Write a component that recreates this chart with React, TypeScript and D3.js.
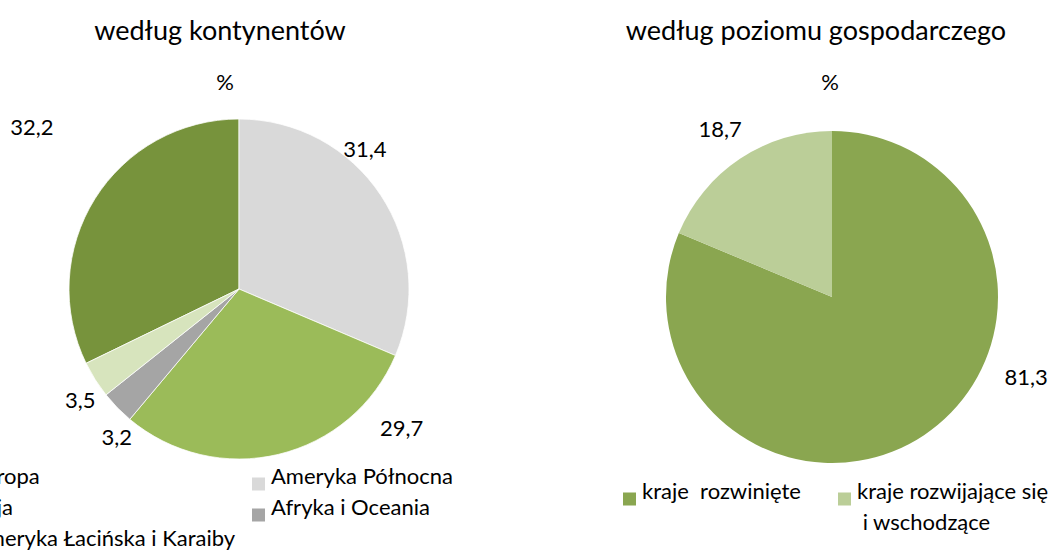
import React, { useEffect, useRef } from 'react'
import * as d3 from 'd3'

// data, legend order
const continentLabels = ['Europa', 'Ameryka Północna', 'Azja', 'Afryka i Oceania', 'Ameryka Łacińska i Karaiby']
const continentValues = [32.2, 31.4, 29.7, 3.2, 3.5]
const continentColors = ['#77933C', '#D9D9D9', '#9BBB59', '#A5A5A5', '#D7E4BD']

const levelLabels = ['kraje  rozwinięte', 'kraje rozwijające się\n i wschodzące']
const levelValues = [81.3, 18.7]
const levelColors = ['#8AA650', '#BBCE98']

// label placement (deg shift from slice middle, px beyond the rim)
const continentLabelShift = [6, -14.5, -36, -6.2, -2.8]
const continentLabelOffset = [93, 18, 44, 22, 24]
const levelLabelShift = [-34, 0]
const levelLabelOffset = [44, 36]

const W = 1055, H = 559
const FONT = 'Lato, "Open Sans", sans-serif'

const pl = d3.formatLocale({ decimal: ',', thousands: ' ', grouping: [3], currency: ['', ' zł'] })
const fmt = pl.format('.1f')

function drawPie(svg, o) {
  const g = svg.append('g')

  g.append('text')
    .attr('x', o.titleX).attr('y', 40)
    .attr('text-anchor', 'middle')
    .style('font-size', '27px')
    .text(o.title)
  g.append('text')
    .attr('x', o.pctX).attr('y', 90)
    .attr('text-anchor', 'middle')
    .style('font-size', '22px')
    .text('%')

  const total = d3.sum(o.values)
  const start = o.firstIndex ? -(o.values[0] / total) * 2 * Math.PI : 0
  const pie = d3.pie().sort(null).startAngle(start).endAngle(start + 2 * Math.PI)
  const arcs = pie(o.values)
  const arc = d3.arc().innerRadius(0).outerRadius(o.r)

  const pg = g.append('g').attr('transform', `translate(${o.cx},${o.cy})`)
  pg.selectAll('path')
    .data(arcs)
    .enter().append('path')
      .attr('d', arc)
      .attr('fill', (d, i) => o.colors[i])
      .attr('stroke', '#fff')
      .attr('stroke-width', o.stroke)

  pg.selectAll('text.lbl')
    .data(arcs)
    .enter().append('text')
      .attr('class', 'lbl')
      .attr('x', (d, i) => {
        const a = (d.startAngle + d.endAngle) / 2 + o.shift[i] * Math.PI / 180
        return Math.sin(a) * (o.r + o.offset[i])
      })
      .attr('y', (d, i) => {
        const a = (d.startAngle + d.endAngle) / 2 + o.shift[i] * Math.PI / 180
        return -Math.cos(a) * (o.r + o.offset[i])
      })
      .attr('dy', '0.35em')
      .attr('text-anchor', 'middle')
      .style('font-size', '22px')
      .text(d => fmt(d.value))

  // legend
  const lg = g.append('g')
  o.labels.forEach((lab, i) => {
    const col = i % o.legendCols.length
    const row = Math.floor(i / o.legendCols.length)
    const x = o.legendCols[col], y = o.legendY + row * 31
    lg.append('rect')
      .attr('x', x).attr('y', y - 6.5)
      .attr('width', 13).attr('height', 13)
      .attr('fill', o.colors[i])
    const t = lg.append('text')
      .attr('x', x + 19).attr('y', y)
      .attr('dy', '0.35em')
      .style('font-size', '22px')
      .style('white-space', 'pre')
    lab.split('\n').forEach((line, k) => {
      t.append('tspan')
        .attr('x', x + 19)
        .attr('dy', k === 0 ? 0 : 31)
        .text(line)
    })
  })
}

export default function App() {
  const ref = useRef(null)

  useEffect(() => {
    const svg = d3.select(ref.current)
    svg.selectAll('*').remove()
    svg.style('font-family', FONT).style('fill', '#000')

    drawPie(svg, {
      title: 'według kontynentów', titleX: 220, pctX: 225,
      values: continentValues, labels: continentLabels, colors: continentColors,
      cx: 239, cy: 289, r: 170, firstIndex: true, stroke: 0.75,
      shift: continentLabelShift, offset: continentLabelOffset,
      legendCols: [-47, 252], legendY: 484,
    })

    drawPie(svg, {
      title: 'według poziomu gospodarczego', titleX: 816, pctX: 830,
      values: levelValues, labels: levelLabels, colors: levelColors,
      cx: 832, cy: 297, r: 166, firstIndex: false, stroke: 0,
      shift: levelLabelShift, offset: levelLabelOffset,
      legendCols: [623, 838], legendY: 499,
    })
  }, [])

  return (
    <div style={{ position: 'absolute', left: 0, top: 0, width: W, height: H, background: '#fff' }}>
      <svg ref={ref} width={W} height={H} viewBox={`0 0 ${W} ${H}`} />
    </div>
  )
}
